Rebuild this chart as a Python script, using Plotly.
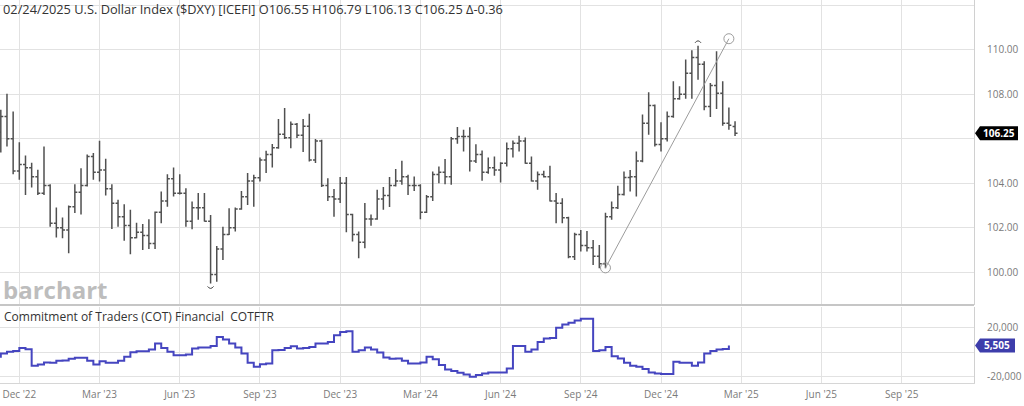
import datetime as dt
import plotly.graph_objects as go

# ---------------- data ----------------
first_week = "2022-11-14"          # weekly bars (Monday dated)
opens = [106.30, 107.00, 106.00, 104.55, 104.85, 104.70, 104.30, 103.55, 103.90, 102.20,
         102.00, 101.90, 102.95, 103.60, 103.90, 105.20, 104.50, 104.60, 103.75, 103.10,
         102.50, 102.10, 101.55, 101.80, 101.65, 101.30, 102.70, 103.20, 104.20, 103.55,
         103.55, 102.30, 102.90, 102.90, 102.30, 99.90, 101.05, 101.70, 102.00, 102.85,
         103.40, 104.10, 104.25, 105.05, 105.30, 105.60, 106.20, 106.05, 106.65, 106.16,
         106.56, 105.05, 105.90, 103.90, 103.40, 103.30, 104.00, 102.60, 101.70, 101.35,
         102.40, 102.40, 103.30, 103.45, 103.90, 104.10, 104.30, 103.90, 103.90, 102.70,
         103.40, 104.40, 104.50, 104.30, 106.00, 106.10, 106.10, 105.00, 105.30, 104.50,
         104.70, 104.60, 104.90, 105.55, 105.80, 105.90, 104.90, 104.10, 104.40, 104.30,
         103.20, 103.10, 102.45, 100.70, 101.70, 101.20, 101.10, 100.72, 100.38, 102.50,
         102.90, 103.50, 104.26, 104.30, 105.00, 106.70, 107.50, 105.75, 106.00, 107.00,
         107.80, 108.00, 108.95, 109.65, 109.35, 107.45, 108.40, 108.05, 106.70, 106.55]
highs = [107.31, 108.03, 107.23, 105.85, 105.25, 104.92, 104.61, 105.66, 103.96, 102.91,
         102.46, 103.00, 103.96, 104.68, 105.30, 105.36, 105.91, 105.10, 103.96, 103.26,
         103.06, 102.81, 102.23, 102.17, 102.39, 102.73, 103.63, 104.41, 104.71, 104.41,
         103.78, 103.18, 103.56, 103.56, 102.58, 101.18, 102.05, 102.88, 102.91, 103.66,
         104.46, 104.38, 105.16, 105.46, 105.77, 106.89, 107.39, 106.78, 106.71, 106.89,
         107.13, 105.99, 105.96, 104.23, 103.74, 104.28, 104.28, 102.63, 101.83, 103.11,
         102.60, 103.71, 103.83, 104.28, 104.64, 105.01, 104.38, 104.31, 103.96, 103.48,
         104.53, 104.76, 105.09, 106.08, 106.53, 106.41, 106.52, 105.76, 105.48, 105.16,
         105.21, 104.95, 105.84, 105.93, 106.14, 106.06, 105.21, 104.53, 104.56, 104.79,
         103.56, 103.33, 102.50, 101.78, 101.90, 101.86, 101.45, 101.23, 102.68, 103.18,
         103.89, 104.53, 104.60, 105.43, 107.09, 108.09, 107.54, 106.74, 107.23, 108.59,
         108.36, 109.56, 109.98, 110.18, 109.49, 108.51, 109.94, 108.59, 107.41, 106.79]
lows = [105.39, 105.66, 104.41, 104.16, 103.48, 103.81, 103.48, 103.48, 102.05, 101.56,
        101.53, 100.86, 102.66, 102.60, 103.86, 104.16, 104.08, 103.45, 101.95, 102.05,
        101.42, 100.81, 101.53, 101.00, 101.05, 101.05, 102.20, 102.95, 103.41, 103.50,
        102.05, 101.94, 102.36, 102.28, 99.50, 99.58, 100.55, 101.68, 101.83, 102.81,
        103.03, 102.95, 104.08, 104.46, 104.71, 105.55, 105.99, 105.58, 106.04, 105.41,
        104.98, 104.91, 103.83, 103.21, 102.50, 103.11, 101.80, 101.38, 100.63, 101.08,
        102.09, 102.36, 102.81, 102.93, 103.86, 103.93, 103.48, 103.66, 102.39, 102.66,
        103.21, 104.00, 103.96, 103.93, 105.78, 105.43, 104.53, 104.91, 104.11, 104.43,
        104.34, 104.04, 104.76, 105.16, 105.43, 104.88, 104.08, 103.71, 104.26, 103.18,
        102.21, 102.21, 100.63, 100.55, 100.93, 100.93, 100.33, 100.18, 100.18, 102.36,
        102.85, 103.45, 103.63, 103.41, 104.95, 106.18, 105.66, 105.43, 105.88, 106.95,
        107.76, 107.80, 107.80, 108.66, 107.28, 106.98, 107.34, 106.59, 106.41, 106.13]
closes = [107.00, 106.00, 104.55, 104.85, 104.70, 104.30, 103.55, 103.90, 102.20, 102.00,
          101.90, 102.95, 103.60, 103.90, 105.20, 104.50, 104.60, 103.75, 103.10, 102.50,
          102.10, 101.55, 101.80, 101.65, 101.30, 102.70, 103.20, 104.20, 103.55, 103.55,
          102.30, 102.90, 102.90, 102.30, 99.90, 101.05, 101.70, 102.00, 102.85, 103.40,
          104.10, 104.25, 105.05, 105.30, 105.60, 106.20, 106.05, 106.65, 106.16, 106.56,
          105.05, 105.90, 103.90, 103.40, 103.30, 104.00, 102.60, 101.70, 101.35, 102.40,
          102.40, 103.30, 103.45, 103.90, 104.10, 104.30, 103.90, 103.90, 102.70, 103.40,
          104.40, 104.50, 104.30, 106.00, 106.10, 106.10, 105.00, 105.30, 104.50, 104.70,
          104.60, 104.90, 105.55, 105.80, 105.90, 104.90, 104.10, 104.40, 104.30, 103.20,
          103.10, 102.45, 100.70, 101.70, 101.20, 101.10, 100.72, 100.38, 102.50, 102.90,
          103.50, 104.26, 104.30, 105.00, 106.70, 107.50, 105.75, 106.00, 107.00, 107.80,
          108.00, 108.95, 109.65, 109.35, 107.45, 108.40, 108.05, 106.70, 106.61, 106.25]

cot_first_week = "2022-11-07"      # weekly COT net position
cot_net = [-3780, -1080, 270, 1080, 3510, 2430, -11070, -9990, -8370, -8640,
           -7020, -6750, -5400, -4590, -4590, -7020, -9990, -7290, -8640, -8640,
           -7020, -3780, 0, 810, 810, 2160, 7020, 3510, 270, -2430,
           -2430, -1890, 2970, 3780, 3780, 5130, 12410, 10260, 7020, 3780,
           -1080, -8640, -11880, -9720, -9180, 1620, 1890, 3510, 4860, 2970,
           3510, 4320, 7020, 7020, 8370, 13760, 16460, 17000, 270, 1620,
           3780, 2160, -270, -4320, -5400, -5130, -7020, -9180, -9180, -8370,
           -3780, -5670, -10530, -14040, -15380, -16730, -18080, -19970, -18620, -17270,
           -16460, -16460, -16460, -13220, 5130, 5130, 270, 2160, 8370, 11070,
           11600, 19970, 22670, 24020, 25910, 27260, 27260, 1080, 1620, 4320,
           -3240, -5130, -8640, -11070, -11880, -13760, -16460, -17270, -17810, -17810,
           -7830, -8640, -8640, -11070, -8370, -1080, 1080, 2160, 2700, 5505]

tick_dates = ["2022-12-05", "2023-03-06", "2023-06-05", "2023-09-04", "2023-12-04", "2024-03-04",
              "2024-06-03", "2024-09-02", "2024-12-02", "2025-03-03", "2025-06-02", "2025-09-01"]
tick_labels = ["Dec '22", "Mar '23", "Jun '23", "Sep '23", "Dec '23", "Mar '24",
               "Jun '24", "Sep '24", "Dec '24", "Mar '25", "Jun '25", "Sep '25"]
price_ticks = [100, 102, 104, 106, 108, 110, 112]
cot_ticks = [-20000, 0, 20000]

trend_dates = ["2024-09-30", "2025-02-17"]
trend_values = [100.2, 110.5]

# ---------------- derived ----------------
d0 = dt.date.fromisoformat(first_week)
dates = [(d0 + dt.timedelta(weeks=i)).isoformat() for i in range(len(closes))]
c0 = dt.date.fromisoformat(cot_first_week)
cot_dates = [(c0 + dt.timedelta(weeks=i)).isoformat() for i in range(len(cot_net))]

W, H = 1024, 406
M_L, M_R, M_T, M_B = 0, 50, 0, 23
PH = H - M_T - M_B  # plot area height in px


def px2paper(py):
    return (PH - py) / PH


price_dom = [px2paper(305), 1.0]
cot_dom = [0.0, px2paper(306.5)]
price_range = [98.53, 112.24]
cot_range = [-25100, 37250]
x_range = ["2022-11-13 02:00", "2025-11-22 02:00"]


def val2paper(v, rng, dom):
    return dom[0] + (v - rng[0]) / (rng[1] - rng[0]) * (dom[1] - dom[0])


last_close = closes[-1]
last_cot = cot_net[-1]

# tick labels hidden underneath the last-value badges
price_text = ["" if abs(v - last_close) < 0.6 else f"{v:.2f}" for v in price_ticks]
cot_text = ["" if abs(v - last_cot) < 7000 else f"{v:,}" for v in cot_ticks]

GRID = "#e2e2e2"
BAR = "#505050"
COT_COLOR = "#4545c0"
BADGE_COT = "#3d3dab"
FONT = "Open Sans"

fig = go.Figure()
fig.add_trace(go.Ohlc(
    x=dates, open=opens, high=highs, low=lows, close=closes,
    increasing=dict(line=dict(color=BAR, width=1.5)),
    decreasing=dict(line=dict(color=BAR, width=1.5)),
    tickwidth=0.4, xaxis="x", yaxis="y", hoverinfo="skip", showlegend=False))
fig.add_trace(go.Scatter(
    x=trend_dates, y=trend_values, mode="lines",
    line=dict(color="#9c9c9c", width=1), xaxis="x", yaxis="y",
    hoverinfo="skip", showlegend=False))
fig.add_trace(go.Scatter(
    x=cot_dates, y=cot_net, mode="lines",
    line=dict(color=COT_COLOR, width=2, shape="hv"), xaxis="x2", yaxis="y2",
    hoverinfo="skip", showlegend=False))

axis_font = dict(family=FONT, size=10, color="#7a7a7a")
fig.update_layout(
    width=W, height=H,
    margin=dict(l=M_L, r=M_R, t=M_T, b=M_B, pad=0),
    paper_bgcolor="white", plot_bgcolor="white",
    showlegend=False,
    font=dict(family=FONT, color="#333333"),
    xaxis=dict(domain=[0, 1], anchor="y", type="date", range=x_range,
               tickvals=tick_dates, ticktext=tick_labels, showticklabels=False,
               showgrid=True, gridcolor=GRID, gridwidth=1, zeroline=False,
               showline=False, ticks="", rangeslider=dict(visible=False)),
    xaxis2=dict(domain=[0, 1], anchor="y2", type="date", range=x_range, matches="x",
                tickvals=tick_dates, ticktext=tick_labels, tickfont=axis_font,
                showgrid=True, gridcolor=GRID, gridwidth=1, zeroline=False,
                showline=True, linecolor="#d6d6d6", linewidth=1, ticks="",
                ticklabelstandoff=2),
    yaxis=dict(domain=price_dom, anchor="x", side="right", range=price_range,
               tickvals=price_ticks, ticktext=price_text,
               tickfont=axis_font, showgrid=True, gridcolor=GRID, gridwidth=1,
               zeroline=False, showline=True, linecolor="#d0d0d0", ticks="",
               ticklabelstandoff=10),
    yaxis2=dict(domain=cot_dom, anchor="x2", side="right", range=cot_range,
                tickvals=cot_ticks, ticktext=cot_text,
                tickfont=axis_font, showgrid=True, gridcolor=GRID, gridwidth=1,
                zeroline=False, showline=True, linecolor="#d0d0d0", ticks="",
                ticklabelstandoff=10),
)

shapes = []
# panel separator
sep_y = px2paper(305)
shapes.append(dict(type="line", xref="paper", yref="paper", x0=0, x1=1, y0=sep_y, y1=sep_y,
                   line=dict(color="#c6c6c6", width=2), layer="above"))
# trendline end circles
for d, v in zip(trend_dates, trend_values):
    shapes.append(dict(type="circle", xref="x", yref="y", xsizemode="pixel", ysizemode="pixel",
                       xanchor=d, yanchor=v, x0=-5, x1=5, y0=-5, y1=5,
                       line=dict(color="#9c9c9c", width=1), fillcolor="rgba(0,0,0,0)"))
# high / low arcs
imax = max(range(len(highs)), key=lambda i: highs[i])
imin = min(range(len(lows)), key=lambda i: lows[i])
shapes.append(dict(type="path", xref="x", yref="y", xsizemode="pixel", ysizemode="pixel",
                   xanchor=dates[imax], yanchor=highs[imax], path="M-3,3 Q0,7 3,3",
                   line=dict(color="#444", width=1)))
shapes.append(dict(type="path", xref="x", yref="y", xsizemode="pixel", ysizemode="pixel",
                   xanchor=dates[imin], yanchor=lows[imin], path="M-3,-3 Q0,-7 3,-3",
                   line=dict(color="#444", width=1)))

# value badges
y_price_badge = val2paper(last_close, price_range, price_dom)
y_cot_badge = val2paper(last_cot, cot_range, cot_dom)
shapes.append(dict(type="path", xref="paper", yref="paper", xsizemode="pixel", ysizemode="pixel",
                   xanchor=1, yanchor=y_price_badge, path="M1,0 L6,7 L44,7 L44,-7 L6,-7 Z",
                   fillcolor="#000000", line=dict(width=0), layer="above"))
shapes.append(dict(type="path", xref="paper", yref="paper", xsizemode="pixel", ysizemode="pixel",
                   xanchor=1, yanchor=y_cot_badge, path="M1,0 L6,7 L41,7 L41,-7 L6,-7 Z",
                   fillcolor=BADGE_COT, line=dict(width=0), layer="above"))
fig.update_layout(shapes=shapes)

chg = closes[-1] - closes[-2]
last_date = dt.date.fromisoformat(dates[-1]).strftime("%m/%d/%Y")
title = (f"{last_date} U.S. Dollar Index ($DXY) [ICEFI] O{opens[-1]:.2f} H{highs[-1]:.2f} "
         f"L{lows[-1]:.2f} C{closes[-1]:.2f} \u0394{chg:.2f}")

annotations = [
    dict(text=title, xref="paper", yref="paper", x=0, y=px2paper(9), xanchor="left",
         yanchor="middle", xshift=1, showarrow=False,
         font=dict(family=FONT, size=12.8, color="#333333")),
    dict(text="Commitment of Traders (COT) Financial\u00a0 COTFTR", xref="paper", yref="paper",
         x=0, y=px2paper(316), xanchor="left", yanchor="middle", xshift=2, showarrow=False,
         font=dict(family=FONT, size=12, color="#333333")),
    dict(text="<b>barchart</b>", xref="paper", yref="paper", x=0, y=px2paper(289),
         xanchor="left", yanchor="middle", xshift=1, showarrow=False,
         font=dict(family=FONT, size=24, color="#bdbdbd")),
    dict(text=f"<b>{last_close:.2f}</b>", xref="paper", yref="paper", x=1, y=y_price_badge,
         xanchor="center", yanchor="middle", xshift=25, showarrow=False,
         font=dict(family=FONT, size=10, color="white")),
    dict(text=f"<b>{last_cot:,}</b>", xref="paper", yref="paper", x=1, y=y_cot_badge,
         xanchor="center", yanchor="middle", xshift=23, showarrow=False,
         font=dict(family=FONT, size=10, color="white")),
]
fig.update_layout(annotations=annotations)

fig.write_html("out.html")
